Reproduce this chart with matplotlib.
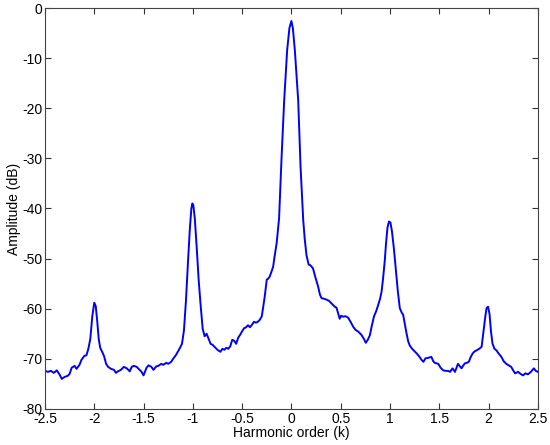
"""Harmonic spectrum - amplitude in dB vs harmonic order"""
import matplotlib
matplotlib.use("Agg")
import matplotlib.pyplot as plt

# values (k, dB)
harmonic_order = [
    -2.50, -2.47, -2.44, -2.41, -2.38, -2.35, -2.33, -2.30, -2.27, -2.25,
    -2.23, -2.20, -2.18, -2.15, -2.13, -2.10, -2.08, -2.06, -2.04, -2.02,
    -2.00, -1.985, -1.97, -1.955, -1.94, -1.92, -1.90, -1.88, -1.86, -1.83,
    -1.80, -1.78, -1.76, -1.73, -1.70, -1.67, -1.64, -1.62, -1.60, -1.57,
    -1.55, -1.52, -1.50, -1.47, -1.45, -1.42, -1.40, -1.37, -1.35, -1.32,
    -1.30, -1.27, -1.25, -1.22, -1.20, -1.17, -1.15, -1.13, -1.11, -1.09,
    -1.07, -1.05, -1.03, -1.015, -1.005, -0.995, -0.98, -0.96, -0.94, -0.92,
    -0.90, -0.88, -0.86, -0.84, -0.82, -0.80, -0.78, -0.75, -0.72, -0.70,
    -0.68, -0.66, -0.64, -0.62, -0.60, -0.58, -0.56, -0.54, -0.52, -0.50,
    -0.48, -0.46, -0.44, -0.42, -0.40, -0.38, -0.36, -0.34, -0.32, -0.30,
    -0.285, -0.27, -0.25, -0.235, -0.22, -0.20, -0.185, -0.17, -0.15, -0.125,
    -0.10, -0.073, -0.043, -0.02, 0.0, 0.015, 0.035, 0.069, 0.093, 0.12,
    0.135, 0.153, 0.175, 0.19, 0.205, 0.22, 0.24, 0.255, 0.27, 0.29,
    0.306, 0.33, 0.357, 0.38, 0.41, 0.44, 0.458, 0.475, 0.49, 0.505,
    0.525, 0.55, 0.576, 0.60, 0.627, 0.65, 0.68, 0.71, 0.735, 0.755,
    0.775, 0.796, 0.815, 0.837, 0.86, 0.88, 0.90, 0.915, 0.93, 0.948,
    0.96, 0.975, 0.99, 1.005, 1.02, 1.04, 1.06, 1.08, 1.10, 1.12,
    1.134, 1.15, 1.168, 1.185, 1.20, 1.225, 1.25, 1.275, 1.30, 1.32,
    1.34, 1.36, 1.39, 1.42, 1.44, 1.455, 1.49, 1.515, 1.54, 1.565,
    1.59, 1.61, 1.635, 1.66, 1.69, 1.71, 1.726, 1.745, 1.76, 1.78,
    1.80, 1.82, 1.84, 1.86, 1.88, 1.905, 1.93, 1.95, 1.968, 1.98,
    1.995, 2.01, 2.025, 2.04, 2.06, 2.08, 2.105, 2.13, 2.155, 2.18,
    2.205, 2.23, 2.25, 2.27, 2.30, 2.325, 2.35, 2.375, 2.40, 2.43,
    2.46, 2.48, 2.50,
]
amplitude_db = [
    -72.4, -72.6, -72.4, -72.8, -72.3, -73.2, -74.0, -73.6, -73.4, -73.0,
    -71.8, -71.4, -72.0, -71.2, -70.2, -69.4, -69.3, -68.0, -66.0, -61.5,
    -58.8, -59.5, -62.5, -66.0, -67.8, -68.6, -69.5, -71.0, -71.6, -72.0,
    -72.2, -72.8, -72.5, -72.2, -71.6, -71.9, -72.5, -71.6, -71.4, -71.6,
    -72.0, -72.6, -73.3, -71.8, -71.3, -71.6, -72.2, -71.5, -71.4, -71.0,
    -71.2, -70.8, -71.0, -70.6, -70.0, -69.2, -68.5, -67.8, -67.0, -64.3,
    -58.5, -51.0, -44.0, -40.0, -39.0, -39.3, -42.0, -48.0, -54.5, -59.5,
    -64.0, -65.5, -65.0, -66.0, -67.0, -67.2, -67.6, -68.2, -68.6, -68.0,
    -68.2, -67.8, -68.0, -67.5, -66.2, -66.4, -67.0, -65.8, -65.2, -64.5,
    -63.9, -63.7, -63.3, -63.7, -63.2, -62.6, -62.8, -62.6, -62.2, -61.5,
    -59.5, -57.5, -54.2, -54.0, -53.6, -52.5, -51.6, -49.5, -47.0, -42.0,
    -30.0, -18.4, -8.4, -4.0, -2.6, -4.0, -8.4, -18.4, -31.7, -42.3,
    -46.0, -49.3, -51.2, -51.3, -51.6, -52.0, -53.5, -54.5, -55.5, -57.2,
    -57.9, -58.0, -58.2, -58.4, -59.0, -59.6, -59.8, -61.0, -62.0, -61.4,
    -61.6, -61.5, -61.8, -62.6, -63.6, -64.2, -64.6, -65.2, -66.0, -66.8,
    -66.2, -65.3, -63.5, -61.6, -60.5, -59.3, -58.0, -56.6, -54.0, -50.3,
    -47.0, -43.8, -42.6, -42.8, -44.5, -48.0, -52.3, -56.5, -59.9, -60.8,
    -61.2, -63.0, -64.9, -66.5, -67.3, -68.0, -68.5, -69.0, -69.6, -70.2,
    -70.6, -69.9, -69.8, -69.6, -70.5, -70.8, -71.0, -71.8, -72.3, -72.4,
    -72.4, -72.6, -71.9, -72.6, -71.0, -71.5, -71.9, -71.3, -70.9, -70.8,
    -70.6, -69.6, -68.9, -68.5, -68.3, -68.0, -67.6, -64.3, -61.5, -59.9,
    -59.6, -61.0, -64.5, -66.9, -68.0, -68.3, -69.0, -69.6, -70.5, -71.0,
    -71.3, -71.6, -72.3, -72.9, -72.6, -73.0, -73.3, -72.9, -73.1, -72.6,
    -71.9, -72.4, -72.6,
]

x_ticks = [-2.5, -2, -1.5, -1, -0.5, 0, 0.5, 1, 1.5, 2, 2.5]
x_tick_labels = ["-2.5", "-2", "-1.5", "-1", "-0.5", "0", "0.5", "1", "1.5", "2", "2.5"]
y_ticks = [-80, -70, -60, -50, -40, -30, -20, -10, 0]

plt.rcParams["font.family"] = ["Liberation Sans", "DejaVu Sans"]
plt.rcParams["axes.unicode_minus"] = False  # plain hyphen like the original

fig = plt.figure(figsize=(5.5, 4.45), dpi=100)
ax = fig.add_axes([0.0818, 0.081, 0.896, 0.901])
ax.plot(harmonic_order, amplitude_db, color="#0000ff", linewidth=1.4)

ax.set_xlim(-2.5, 2.5)
ax.set_ylim(-80, 0)
ax.set_xticks(x_ticks)
ax.set_xticklabels(x_tick_labels)
ax.set_yticks(y_ticks)
ax.tick_params(direction="in", top=True, right=True, length=4, width=0.8,
               labelsize=10, colors="#333333", labelcolor="black", pad=2)
for sp in ax.spines.values():
    sp.set_color("#444444")
    sp.set_linewidth(0.8)
ax.set_xlabel("Harmonic order (k)", fontsize=10, labelpad=0)
ax.set_ylabel("Amplitude (dB)", fontsize=10, labelpad=1)

fig.savefig("out.png", dpi=100)
plt.close(fig)
print("saved: out.png")
